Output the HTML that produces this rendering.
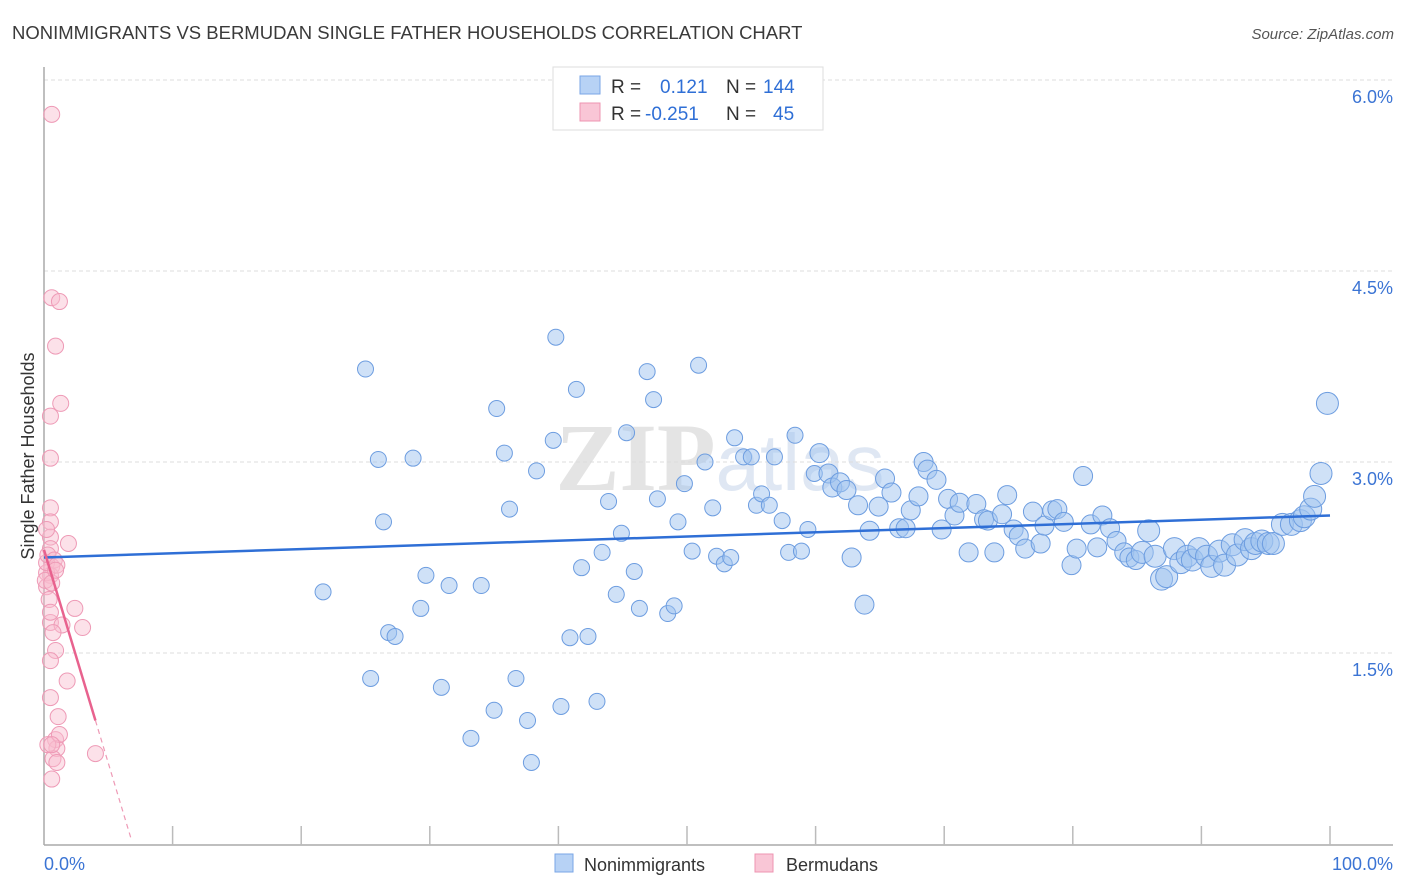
<!DOCTYPE html>
<html><head><meta charset="utf-8"><style>
body{margin:0;background:#fff;font-family:"Liberation Sans",sans-serif;}
svg{display:block}
</style></head><body>
<svg id="chart" width="1406" height="892" xmlns="http://www.w3.org/2000/svg">
<text x="12" y="39" font-size="18.5" fill="#3a3a3a">NONIMMIGRANTS VS BERMUDAN SINGLE FATHER HOUSEHOLDS CORRELATION CHART</text>
<text x="1394" y="39" font-size="15" fill="#555" font-style="italic" text-anchor="end">Source: ZipAtlas.com</text>
<text x="720" y="490" font-size="96" fill="#e4e4e4" text-anchor="middle" font-family="Liberation Serif,serif" font-weight="bold">ZIP<tspan font-family="Liberation Sans,sans-serif" font-weight="normal" font-size="80" fill="#dfe7f3">atlas</tspan></text>
<g id="grid"></g>
<g id="axes"></g>
<g id="pts"></g>
<g id="trend"></g>
<text transform="translate(34,456) rotate(-90)" font-size="18" fill="#333" text-anchor="middle">Single Father Households</text>
<g>
<rect x="553" y="67" width="270" height="63" fill="#fff" stroke="#ddd"/>
<rect x="580" y="76" width="20" height="18" fill="#b7d2f5" stroke="#7aa6e6"/>
<rect x="580" y="103" width="20" height="18" fill="#f9c6d6" stroke="#ee94b1"/>
<text x="611" y="93" font-size="19" fill="#333">R = <tspan x="660" fill="#2f6fd6">0.121</tspan><tspan x="726" fill="#333">N = </tspan><tspan x="763" fill="#2f6fd6">144</tspan></text>
<text x="611" y="120" font-size="19" fill="#333">R = <tspan x="645" fill="#2f6fd6">-0.251</tspan><tspan x="726" fill="#333">N = </tspan><tspan x="773" fill="#2f6fd6">45</tspan></text>
</g>
<rect x="555" y="854" width="18" height="18" fill="#b7d2f5" stroke="#7aa6e6"/>
<text x="584" y="871" font-size="18" fill="#333">Nonimmigrants</text>
<rect x="755" y="854" width="18" height="18" fill="#f9c6d6" stroke="#ee94b1"/>
<text x="786" y="871" font-size="18" fill="#333">Bermudans</text>
</svg>
<script>
const blueX=[25.0,26.0,26.4,21.7,28.7,29.7,29.3,31.5,26.8,27.3,25.4,30.9,34.0,33.2,35.0,36.7,37.6,37.9,35.2,35.8,36.2,38.3,39.8,41.4,39.6,40.2,41.8,40.9,42.3,43.0,43.4,43.9,44.5,44.9,45.3,45.9,46.3,46.9,47.4,47.7,48.5,49.0,49.3,49.8,50.4,50.9,51.4,52.0,52.3,52.9,53.4,53.7,54.4,55.0,55.4,55.8,56.4,56.8,57.4,57.9,58.4,58.9,59.4,59.9,60.3,61.0,61.3,61.9,62.4,62.8,63.3,63.8,64.2,64.9,65.4,65.9,66.5,67.0,67.4,68.0,68.4,68.7,69.4,69.8,70.3,70.8,71.2,71.9,72.5,73.1,73.4,73.9,74.5,74.9,75.4,75.8,76.3,76.9,77.5,77.8,78.4,78.8,79.3,79.9,80.3,80.8,81.4,81.9,82.3,82.9,83.4,84.0,84.4,84.9,85.4,85.9,86.4,86.9,87.3,87.9,88.4,88.9,89.3,89.8,90.4,90.8,91.4,91.8,92.4,92.8,93.4,93.9,94.2,94.7,95.2,95.6,96.3,97.0,97.7,98.0,98.5,98.8,99.3,99.8];
const blueY=[3.73,3.02,2.53,1.98,3.03,2.11,1.85,2.03,1.66,1.63,1.30,1.23,2.03,0.83,1.05,1.30,0.97,0.64,3.42,3.07,2.63,2.93,3.98,3.57,3.17,1.08,2.17,1.62,1.63,1.12,2.29,2.69,1.96,2.44,3.23,2.14,1.85,3.71,3.49,2.71,1.81,1.87,2.53,2.83,2.30,3.76,3.00,2.64,2.26,2.20,2.25,3.19,3.04,3.04,2.66,2.75,2.66,3.04,2.54,2.29,3.21,2.30,2.47,2.91,3.07,2.91,2.80,2.84,2.78,2.25,2.66,1.88,2.46,2.65,2.87,2.76,2.48,2.48,2.62,2.73,3.00,2.94,2.86,2.47,2.71,2.58,2.68,2.29,2.67,2.55,2.54,2.29,2.59,2.74,2.47,2.42,2.32,2.61,2.36,2.50,2.62,2.63,2.53,2.19,2.32,2.89,2.51,2.33,2.58,2.48,2.38,2.29,2.25,2.23,2.29,2.46,2.26,2.08,2.10,2.32,2.21,2.26,2.23,2.32,2.26,2.18,2.30,2.19,2.35,2.27,2.39,2.32,2.36,2.38,2.36,2.36,2.51,2.51,2.54,2.57,2.63,2.73,2.91,3.46];
const pinkX=[0.6,0.6,1.2,0.9,1.3,0.5,0.5,0.5,0.5,0.5,0.5,0.6,0.5,1.9,2.4,0.5,1.4,3.0,0.7,0.9,0.5,1.8,0.5,1.1,0.9,1.0,0.7,1.0,4.0,0.6,0.2,0.2,0.2,0.3,0.2,0.8,1.0,0.3,1.2,0.1,0.6,0.9,0.4,0.5,0.6];
const pinkY=[5.73,4.29,4.26,3.91,3.46,3.36,3.03,2.64,2.53,2.41,2.32,2.18,2.11,2.36,1.85,1.74,1.72,1.70,1.66,1.52,1.44,1.28,1.15,1.00,0.82,0.75,0.67,0.64,0.71,0.51,2.02,2.13,2.21,2.27,2.47,2.23,2.19,0.78,0.86,2.07,2.05,2.15,1.92,1.82,0.78];
const yTicks=[1.5,3.0,4.5,6.0];
const yTickLabels=["1.5%","3.0%","4.5%","6.0%"];
const xLabels=["0.0%","100.0%"];
const blueTrend=[2.25,2.58];
const pinkTrend=[2.31,0.97];
const pinkTrendSolidEnd=4.0;
const pinkTrendDashEnd=6.8;

const NS="http://www.w3.org/2000/svg";
const X0=44,X1=1330,Y0=844,PX=191/1.5;
const sx=v=>X0+(X1-X0)*v/100;
const sy=v=>Y0-v*PX;
function mk(tag,attrs,parent){const e=document.createElementNS(NS,tag);for(const k in attrs)e.setAttribute(k,attrs[k]);parent.appendChild(e);return e;}
const grid=document.getElementById('grid'),axes=document.getElementById('axes'),pts=document.getElementById('pts'),trend=document.getElementById('trend');
yTicks.forEach((t,i)=>{
  const l=mk('line',{x1:X0,x2:1393,y1:sy(t),y2:sy(t),stroke:'#ddd','stroke-dasharray':'4,3'},grid);
  
  
  const tx=mk('text',{x:1393,y:sy(t)+23,'text-anchor':'end','font-size':18,fill:'#3b74d4'},grid);
  tx.textContent=yTickLabels[i];
  
  
});
let a=mk('line',{x1:X0,x2:X0,y1:67,y2:845,stroke:'#aaa','stroke-width':1.5},axes);


a=mk('line',{x1:X0,x2:1393,y1:845,y2:845,stroke:'#aaa','stroke-width':1.5},axes);


for(let i=1;i<=10;i++){
  const t=mk('line',{x1:sx(i*10),x2:sx(i*10),y1:826,y2:845,stroke:'#bbb','stroke-width':1.5},axes);
  
  
}
[[0,'start',X0],[100,'end',1393]].forEach((d,i)=>{
  const t=mk('text',{x:d[2],y:870,'text-anchor':d[1],'font-size':18,fill:'#3b74d4'},axes);
  t.textContent=xLabels[i];
  
  
});
blueX.forEach((x,i)=>{
  const r=x>85?11:(x>60?9.5:8);
  const c=mk('circle',{cx:sx(x),cy:sy(blueY[i]),r:r,fill:'rgba(160,196,240,0.5)',stroke:'#6d9de0','stroke-width':1},pts);
  
  
});
pinkX.forEach((x,i)=>{
  const c=mk('circle',{cx:sx(x),cy:sy(pinkY[i]),r:8,fill:'rgba(248,188,207,0.45)',stroke:'#ee9ab6','stroke-width':1},pts);
  
  
});
let tl=mk('line',{x1:sx(0),y1:sy(blueTrend[0]),x2:sx(100),y2:sy(blueTrend[1]),stroke:'#2f6fd6','stroke-width':2.5},trend);


const pslope=(pinkTrend[1]-pinkTrend[0])/pinkTrendSolidEnd;
tl=mk('line',{x1:sx(0),y1:sy(pinkTrend[0]),x2:sx(pinkTrendSolidEnd),y2:sy(pinkTrend[1]),stroke:'#e8628e','stroke-width':2.5},trend);


tl=mk('line',{x1:sx(pinkTrendSolidEnd),y1:sy(pinkTrend[1]),x2:sx(pinkTrendDashEnd),y2:sy(pinkTrend[0]+pslope*pinkTrendDashEnd),stroke:'#ee9ab6','stroke-width':1.2,'stroke-dasharray':'5,4'},trend);


</script>
</body></html>
